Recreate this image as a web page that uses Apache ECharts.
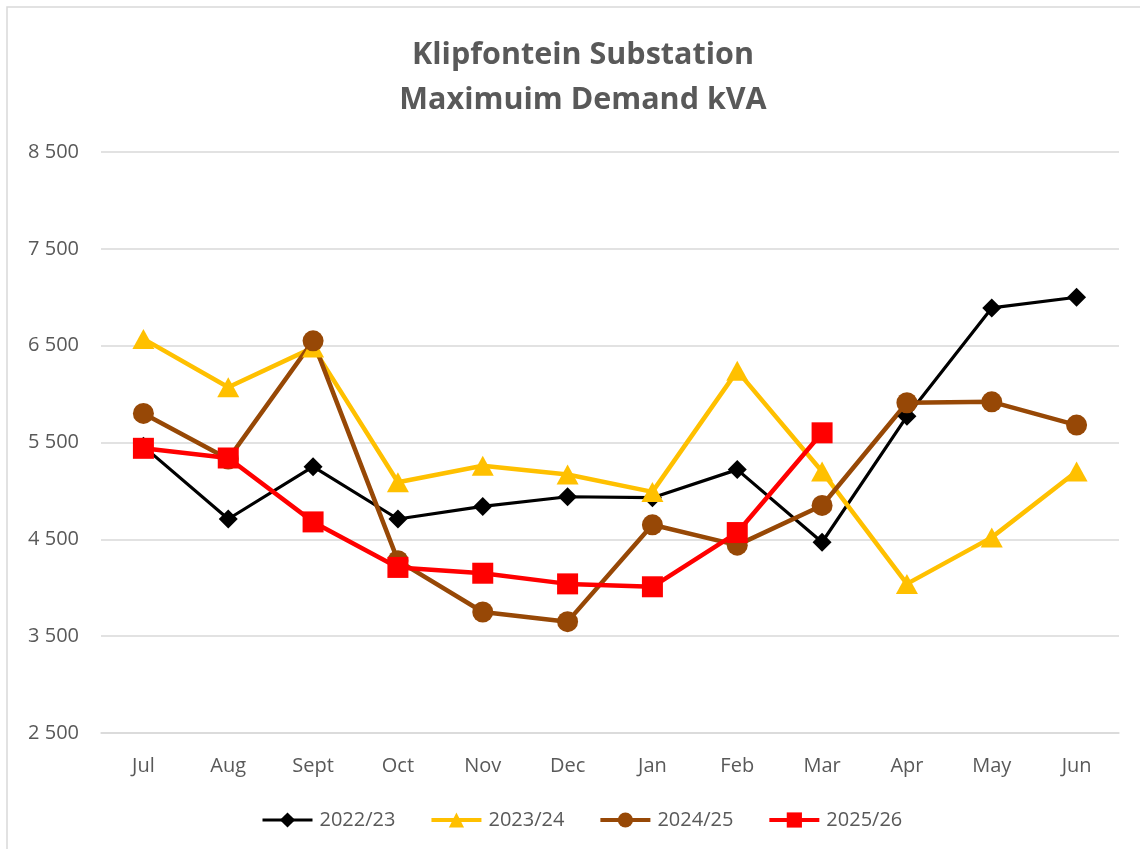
<!DOCTYPE html>
<html>
<head>
<meta charset="utf-8">
<script src="https://cdn.jsdelivr.net/npm/echarts@6/dist/echarts.min.js"></script>
<style>
html,body{margin:0;padding:0;background:#fff;overflow:hidden;}
#chart{width:1140px;height:849px;}
</style>
</head>
<body>
<div id="chart"></div>
<script>
const titleText = 'Klipfontein Substation\nMaximuim Demand kVA';
const categories = ['Jul','Aug','Sept','Oct','Nov','Dec','Jan','Feb','Mar','Apr','May','Jun'];
const seriesNames = ['2022/23','2023/24','2024/25','2025/26'];
const s2022 = [5460, 4710, 5250, 4710, 4840, 4940, 4930, 5220, 4470, 5770, 6890, 7000];
const s2023 = [6570, 6070, 6480, 5090, 5260, 5170, 4990, 6240, 5200, 4040, 4520, 5200];
const s2024 = [5800, 5330, 6550, 4280, 3750, 3650, 4650, 4440, 4850, 5910, 5920, 5680];
const s2025 = [5440, 5340, 4680, 4210, 4150, 4040, 4010, 4570, 5600];
const yMin = 2500, yMax = 8500, yStep = 1000;

const fmt = v => String(v).replace(/\B(?=(\d{3})+(?!\d))/g, ' ');
const textColor = '#595959';
const font = "'Open Sans', sans-serif";

const chart = echarts.init(document.getElementById('chart'), null, {renderer: 'canvas'});
function mk(name, data, color, symbol, size, width) {
  return {
    name, type: 'line', data, symbol, symbolSize: size,
    showAllSymbol: true,
    lineStyle: {color, width},
    itemStyle: {color, opacity: 1},
    emphasis: {disabled: true},
    animation: false
  };
}
chart.setOption({
  animation: false,
  backgroundColor: '#fff',
  graphic: [{
    type: 'rect', shape: {x: 7, y: 7, width: 1200, height: 900},
    style: {fill: 'none', stroke: '#d9d9d9', lineWidth: 1.5}, silent: true, z: -10
  }],
  title: {
    text: titleText,
    left: 578, top: 28, textAlign: 'center',
    textStyle: {fontFamily: font, fontSize: 30.5, fontWeight: 'bold', color: textColor, lineHeight: 45}
  },
  grid: {left: 101, right: 21, top: 152, bottom: 116, containLabel: false},
  legend: {
    data: [
      {name: seriesNames[0], lineStyle: {width: 3}},
      {name: seriesNames[1], lineStyle: {width: 4}},
      {name: seriesNames[2], lineStyle: {width: 4}},
      {name: seriesNames[3], lineStyle: {width: 4}}
    ],
    left: 256, top: 805,
    itemWidth: 50, itemHeight: 19, itemGap: 34,
    textStyle: {fontFamily: font, fontSize: 20, color: textColor, padding: [0, 0, 0, 2]}
  },
  xAxis: {
    type: 'category', data: categories, boundaryGap: true,
    axisLine: {lineStyle: {color: '#d9d9d9', width: 1.5}},
    axisTick: {show: false},
    axisLabel: {fontFamily: font, fontSize: 20, color: textColor, margin: 23}
  },
  yAxis: {
    type: 'value', min: yMin, max: yMax, interval: yStep,
    axisLine: {show: false}, axisTick: {show: false},
    axisLabel: {fontFamily: font, fontSize: 20, color: textColor, margin: 22, formatter: fmt, padding: [0, 0, 4, 0]},
    splitLine: {lineStyle: {color: '#d9d9d9', width: 1.5}}
  },
  series: [
    mk(seriesNames[0], s2022, '#000000', 'diamond', 19, 3.2),
    mk(seriesNames[1], s2023, '#FFC000', 'triangle', [22, 20], 4.5),
    mk(seriesNames[2], s2024, '#974806', 'circle', 21, 4.5),
    mk(seriesNames[3], s2025, '#FF0000', 'rect', 21, 4.5)
  ]
});
</script>
</body>
</html>
